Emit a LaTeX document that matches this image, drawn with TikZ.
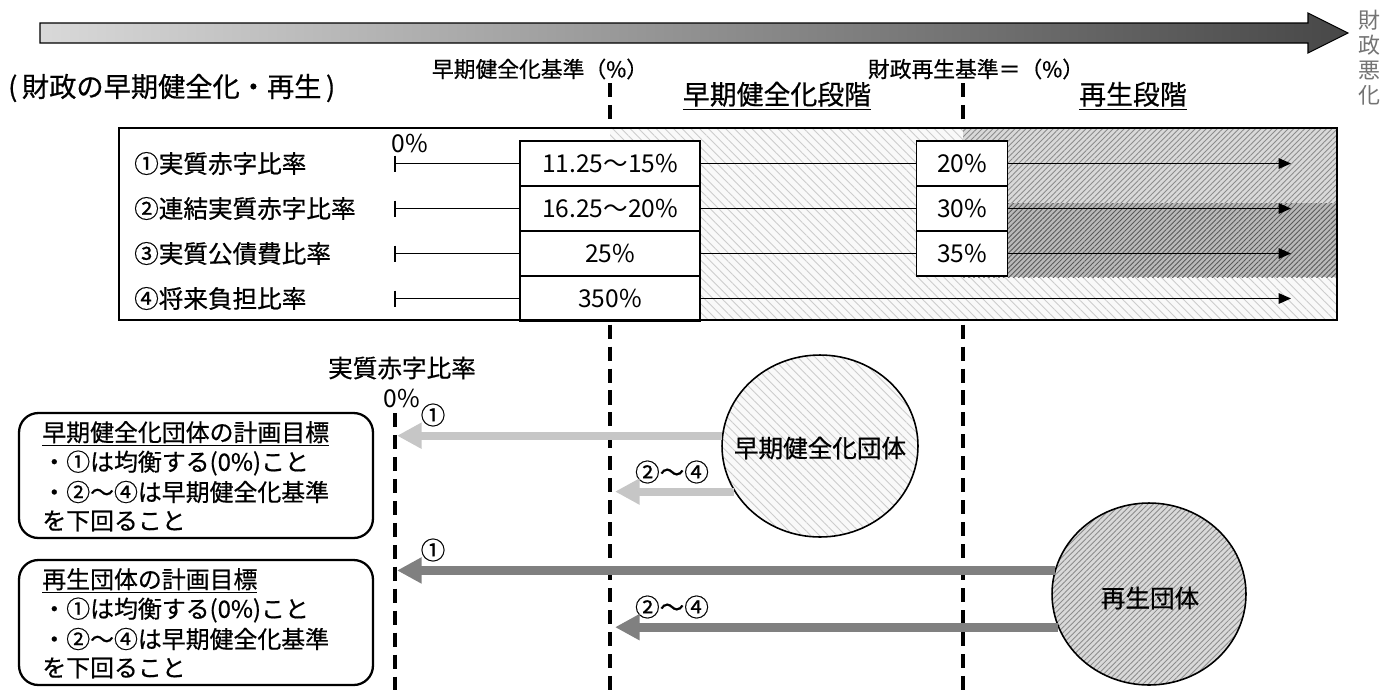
\documentclass[tikz,border=0pt]{standalone}
\usepackage{fontspec}
\setmainfont{Noto Sans CJK JP}[FakeBold=0.6]
\newfontfamily\thinjp{Noto Sans CJK JP}
\usetikzlibrary{arrows.meta,shapes.geometric,patterns.meta}

\tikzset{
	dashline/.style={line width=2pt, dash pattern=on 8pt off 4.5pt},
	lighthatch/.style={preaction={fill=gray!5}, pattern={Lines[angle=-45,distance=3.5pt,line width=0.5pt]}, pattern color=gray!40},
	midhatch/.style={preaction={fill=gray!30}, pattern={Lines[angle=45,distance=2.2pt,line width=0.5pt]}, pattern color=gray!90},
	darkhatch/.style={preaction={fill=gray!55}, pattern={Lines[angle=45,distance=2pt,line width=0.5pt]}, pattern color=black!65},
	rowtext/.style={font=\fontsize{14pt}{16pt}\selectfont},
	numtext/.style={font=\thinjp\fontsize{14pt}{16pt}\selectfont},
	smalltext/.style={font=\fontsize{12.4pt}{14pt}\selectfont},
	stagetext/.style={font=\fontsize{15.3pt}{18pt}\selectfont},
	goaltext/.style={anchor=west, inner sep=0pt, font=\fontsize{13.6pt}{16pt}\selectfont},
	valbox/.style={draw, fill=white, line width=0.9pt, minimum height=0.9cm, inner sep=0pt, font=\thinjp\fontsize{14pt}{16pt}\selectfont},
	goalbox/.style={draw, rounded corners=11pt, line width=1.3pt, minimum width=7.08cm, minimum height=2.5cm},
	oval/.style={ellipse, draw, line width=0.9pt, inner sep=0pt},
	rowline/.style={line width=0.6pt},
	rowarrow/.style={line width=0.6pt, -{Triangle[length=7pt,width=6pt]}},
	lightarrow/.style={draw=gray!45, line width=4.5pt, -{Triangle[length=14pt,width=14pt]}},
	darkarrow/.style={draw=gray, line width=5pt, -{Triangle[length=14pt,width=14pt]}}
}

\begin{document}
\begin{tikzpicture}[x=0.02cm, y=-0.02cm]
	\useasboundingbox (0,0) rectangle (1395,690);
	\shade[left color=gray!30, right color=black!72, draw=black, line width=0.6pt] (40,23) -- (1308,23) -- (1308,13) -- (1348,33) -- (1308,53) -- (1308,43) -- (40,43) -- cycle;
	\node[text=black!55, align=center, font=\thinjp\fontsize{12.5pt}{14.2pt}\selectfont] (worse) at (1369,58) {財\\政\\悪\\化};
	\node[anchor=west, font=\fontsize{15.5pt}{18pt}\selectfont] (title) at (2,88) {(\,財政の早期健全化・再生\,)};
	\node[smalltext] (earlylim) at (540,69) {早期健全化基準（\%）};
	\node[smalltext] (rebuildlim) at (976,69) {財政再生基準＝（\%）};
	\node[stagetext] (earlystage) at (777,96) {\underline{早期健全化段階}};
	\node[stagetext] (rebuildstage) at (1133,96) {\underline{再生段階}};

	\draw[dashline] (610,83) -- (610,690);
	\draw[dashline] (963,83) -- (963,690);
	\draw[dashline] (395,413) -- (395,690);

	\fill[white] (119,128) rectangle (1337,320);
	\fill[lighthatch] (610,128) rectangle (1337,320);
	\fill[midhatch] (963,128) rectangle (1337,203);
	\fill[darkhatch] (963,203) rectangle (1337,277);

	\node[rowtext, anchor=west] (r1) at (128,163.5) {①実質赤字比率};
	\node[rowtext, anchor=west] (r2) at (128,208.5) {②連結実質赤字比率};
	\node[rowtext, anchor=west] (r3) at (128,253.5) {③実質公債費比率};
	\node[rowtext, anchor=west] (r4) at (128,298.5) {④将来負担比率};
	\node[numtext] (zeropct) at (410,143) {0\%};

	\coordinate (t1) at (395,163.5);
	\coordinate (t2) at (395,208.5);
	\coordinate (t3) at (395,253.5);
	\coordinate (t4) at (395,298.5);
	\draw[rowline] (t1) ++(0,-8) -- ++(0,16);
	\draw[rowline] (t2) ++(0,-8) -- ++(0,16);
	\draw[rowline] (t3) ++(0,-8) -- ++(0,16);
	\draw[rowline] (t4) ++(0,-8) -- ++(0,16);

	\node[valbox, minimum width=3.6cm] (a1) at (610,163.5) {11.25～15\%};
	\node[valbox, minimum width=3.6cm] (a2) at (610,208.5) {16.25～20\%};
	\node[valbox, minimum width=3.6cm] (a3) at (610,253.5) {25\%};
	\node[valbox, minimum width=3.6cm] (a4) at (610,298.5) {350\%};
	\node[valbox, minimum width=1.82cm] (b1) at (962,163.5) {20\%};
	\node[valbox, minimum width=1.82cm] (b2) at (962,208.5) {30\%};
	\node[valbox, minimum width=1.82cm] (b3) at (962,253.5) {35\%};

	\coordinate (e1) at (1291,163.5);
	\coordinate (e2) at (1291,208.5);
	\coordinate (e3) at (1291,253.5);
	\coordinate (e4) at (1291,298.5);
	\draw[rowline] (t1) -- (a1);
	\draw[rowline] (t2) -- (a2);
	\draw[rowline] (t3) -- (a3);
	\draw[rowline] (t4) -- (a4);
	\draw[rowline] (a1) -- (b1);
	\draw[rowline] (a2) -- (b2);
	\draw[rowline] (a3) -- (b3);
	\draw[rowarrow] (b1) -- (e1);
	\draw[rowarrow] (b2) -- (e2);
	\draw[rowarrow] (b3) -- (e3);
	\draw[rowarrow] (a4) -- (e4);
	\draw[line width=1.4pt] (119,128) rectangle (1337,320);

	\node[rowtext] (ratelabel) at (402,368) {実質赤字比率};
	\node[numtext] (zerolabel) at (402,398) {0\%};

	\node[goalbox] (goal1) at (196,475.5) {};
	\node[goaltext] (g1a) at (42,434) {\underline{早期健全化団体の計画目標}};
	\node[goaltext] (g1b) at (42,463) {・①は均衡する(0\%)こと};
	\node[goaltext] (g1c) at (42,492) {・②～④は早期健全化基準};
	\node[goaltext] (g1d) at (42,521) {を下回ること};
	\node[goalbox] (goal2) at (196,622.5) {};
	\node[goaltext] (g2a) at (42,581) {\underline{再生団体の計画目標}};
	\node[goaltext] (g2b) at (42,610) {・①は均衡する(0\%)こと};
	\node[goaltext] (g2c) at (42,639) {・②～④は早期健全化基準};
	\node[goaltext] (g2d) at (42,668) {を下回ること};

	\node[oval, lighthatch, minimum width=3.92cm, minimum height=3.64cm] (early) at (820,446) {};
	\node[rowtext] (earlytext) at (820,448) {早期健全化団体};
	\node[oval, midhatch, minimum width=3.88cm, minimum height=3.64cm] (rebuild) at (1149,594) {};
	\node[rowtext] (rebuildtext) at (1150,598) {再生団体};

	\coordinate (p1) at (397,437);
	\coordinate (p2) at (615,492);
	\coordinate (q1) at (397,572);
	\coordinate (q2) at (615,628);
	\node[rowtext] (n1) at (433,415) {①};
	\node[rowtext] (n24) at (672,472) {②～④};
	\node[rowtext] (m1) at (433,550) {①};
	\node[rowtext] (m24) at (672,607) {②～④};
	\draw[lightarrow] (early.174.7) -- (early.174.7 -| p1);
	\draw[lightarrow] (early.208.5) -- (early.208.5 -| p2);
	\draw[darkarrow] (rebuild.166.8) -- (rebuild.166.8 -| q1);
	\draw[darkarrow] (rebuild.200.7) -- (rebuild.200.7 -| q2);
\end{tikzpicture}
\end{document}
